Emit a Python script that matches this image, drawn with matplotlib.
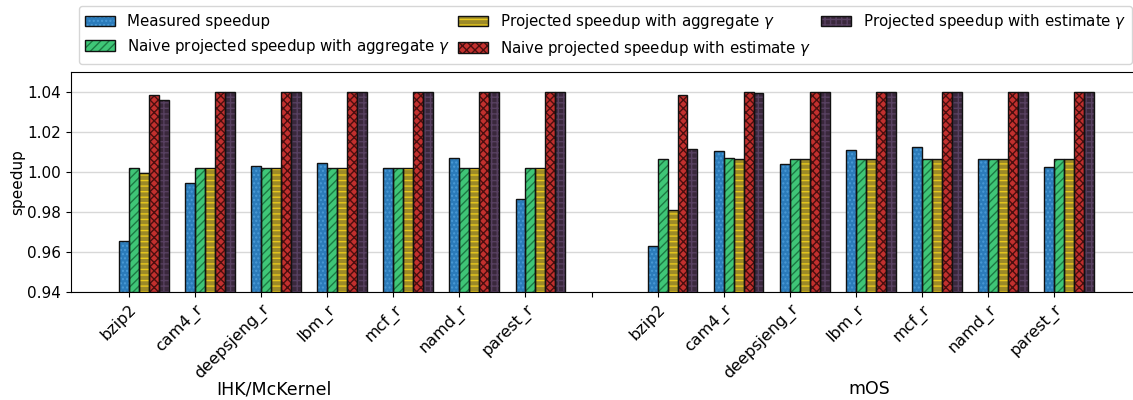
import numpy as np
import matplotlib
matplotlib.use("Agg")
import matplotlib.pyplot as plt

benchmarks = ["bzip2", "cam4_r", "deepsjeng_r", "lbm_r", "mcf_r", "namd_r", "parest_r"]
systems = ["IHK/McKernel", "mOS"]

series_names = [
    "Measured speedup",
    r"Naive projected speedup with aggregate $\gamma$",
    r"Projected speedup with aggregate $\gamma$",
    r"Naive projected speedup with estimate $\gamma$",
    r"Projected speedup with estimate $\gamma$",
]

# per-system values, one list per series (benchmarks in order above)
mck_measured = [0.9655, 0.9942, 1.0029, 1.0042, 1.0020, 1.0067, 0.9862]
mck_naive_agg = [1.0017, 1.0020, 1.0020, 1.0020, 1.0020, 1.0020, 1.0020]
mck_proj_agg = [0.9992, 1.0020, 1.0020, 1.0020, 1.0020, 1.0020, 1.0020]
mck_naive_est = [1.0387, 1.0400, 1.0400, 1.0400, 1.0400, 1.0400, 1.0400]
mck_proj_est = [1.0359, 1.0400, 1.0400, 1.0400, 1.0400, 1.0400, 1.0400]

mos_measured = [0.9629, 1.0102, 1.0039, 1.0109, 1.0124, 1.0066, 1.0022]
mos_naive_agg = [1.0064, 1.0067, 1.0066, 1.0066, 1.0066, 1.0066, 1.0066]
mos_proj_agg = [0.9807, 1.0065, 1.0066, 1.0066, 1.0066, 1.0066, 1.0066]
mos_naive_est = [1.0387, 1.0400, 1.0400, 1.0400, 1.0400, 1.0400, 1.0400]
mos_proj_est = [1.0114, 1.0397, 1.0400, 1.0400, 1.0400, 1.0400, 1.0400]

mck = [mck_measured, mck_naive_agg, mck_proj_agg, mck_naive_est, mck_proj_est]
mos = [mos_measured, mos_naive_agg, mos_proj_agg, mos_naive_est, mos_proj_est]

face_colors = ["#2b7bba", "#3fc677", "#9c8a28", "#c3302e", "#3a283c"]
hatch_colors = ["#4a9ad6", "#1d7a44", "#e8c81c", "#4a0f0f", "#574060"]
hatches = ["....", "////", "---", "xxxx", "+++"]

plt.rcParams["hatch.linewidth"] = 1.0

fig = plt.figure(figsize=(11.33, 4.0), dpi=100)
ax = fig.add_axes([0.0624, 0.271, 0.944, 0.549])

n = len(benchmarks)
x_mck = np.arange(n)
x_mos = np.arange(n) + n + 1
x_all = np.concatenate([x_mck, x_mos])
w = 0.15

handles = []
for i in range(len(series_names)):
    vals = np.array(mck[i] + mos[i])
    pos = x_all + (i - 0.5) * w
    # hatched fill first, then a plain black outline on top
    hb = ax.bar(pos, vals - 0.94, w, bottom=0.94, color=face_colors[i],
                edgecolor=hatch_colors[i], hatch=hatches[i], linewidth=0,
                zorder=3)
    ob = ax.bar(pos, vals - 0.94, w, bottom=0.94, fill=False,
                edgecolor="#111111", linewidth=1.0, zorder=4)
    handles.append((hb, ob))

ticks = np.arange(2 * n + 1)
labels = benchmarks + [""] + benchmarks
ax.set_xticks(ticks)
ax.set_xticklabels(labels, rotation=45, ha="right", rotation_mode="anchor",
                   fontsize=11.5)
ax.set_xlim(-0.88, 15.3)
ax.set_ylim(0.94, 1.05)
ax.set_yticks([0.94, 0.96, 0.98, 1.00, 1.02, 1.04])
ax.tick_params(axis="y", labelsize=11)
ax.set_ylabel("speedup", fontsize=11, labelpad=1)
ax.yaxis.grid(True, color="#d8d8d8", linewidth=1.0, zorder=0)
ax.set_axisbelow(True)

ax.legend(handles, series_names, ncol=3, loc="lower center",
          bbox_to_anchor=(0.5, 1.038), borderaxespad=0, fontsize=10.8,
          columnspacing=0.6, frameon=True)

fig.text(0.2415, 0.027, systems[0], ha="center", va="center", fontsize=12.5)
fig.text(0.767, 0.027, systems[1], ha="center", va="center", fontsize=12.5)

fig.savefig("out.png", dpi=100)
